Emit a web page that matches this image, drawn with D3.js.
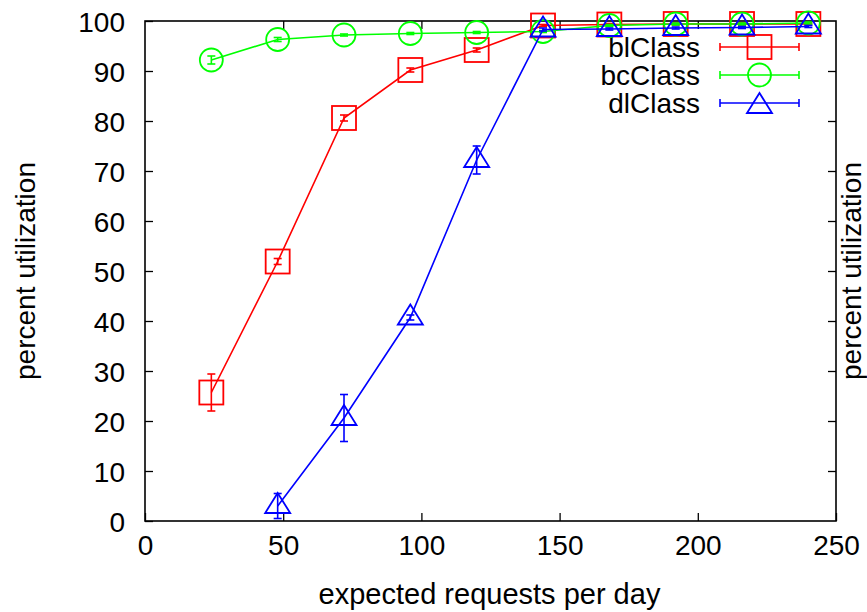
<!DOCTYPE html>
<html>
<head>
<meta charset="utf-8">
<script src="https://cdn.jsdelivr.net/npm/d3@7"></script>
<style>
  html, body { margin: 0; padding: 0; background: #fff; }
  svg text { font-family: "Liberation Sans", Arial, sans-serif; fill: #000; }
</style>
</head>
<body>
<svg id="chart" width="867" height="612"></svg>
<script>
// Request load levels (requests per day)
const requests = [24, 48, 72, 96, 120, 144, 168, 192, 216, 240];

// Mean utilization (%) and error half-widths per class
const blClass = [25.7, 51.9, 80.6, 90.2, 94.2, 99.1, 99.3, 99.4, 99.4, 99.4];
const blErr   = [3.7, 0.6, 0.6, 0.4, 0.4, 0.2, 0.2, 0.2, 0.2, 0.2];
const bcClass = [92.2, 96.3, 97.2, 97.5, 97.7, 97.9, 99.1, 99.4, 99.4, 99.6];
const bcErr   = [0.8, 0.4, 0.2, 0.2, 0.2, 0.2, 0.2, 0.2, 0.2, 0.2];
const dlClass = [null, 3.0, 20.6, 40.7, 72.2, 98.3, 98.4, 98.6, 98.7, 98.9];
const dlErr   = [null, 2.5, 4.7, 0.5, 2.8, 0.3, 0.2, 0.2, 0.2, 0.2];

const xTicks = [0, 50, 100, 150, 200, 250];
const yTicks = [0, 10, 20, 30, 40, 50, 60, 70, 80, 90, 100];

const seriesNames  = ["blClass", "bcClass", "dlClass"];
const seriesColors = ["#ff0000", "#00ff00", "#0000ff"];
const seriesShapes = ["square", "circle", "triangle"];

const series = [
  { name: seriesNames[0], color: seriesColors[0], shape: seriesShapes[0], values: blClass, errs: blErr },
  { name: seriesNames[1], color: seriesColors[1], shape: seriesShapes[1], values: bcClass, errs: bcErr },
  { name: seriesNames[2], color: seriesColors[2], shape: seriesShapes[2], values: dlClass, errs: dlErr }
];

const svg = d3.select("#chart");
const plotLeft = 145, plotTop = 21, plotRight = 836, plotBottom = 521;

const x = d3.scaleLinear().domain([0, 250]).range([plotLeft, plotRight]);
const y = d3.scaleLinear().domain([0, 100]).range([plotBottom, plotTop]);

const fontSize = 28;
const tickLen = 8;

// Axes: bottom/left with labels, top/right mirror ticks only
const axes = svg.append("g");
axes.append("g").attr("transform", `translate(0,${plotBottom})`)
  .call(d3.axisBottom(x).tickValues(xTicks).tickSize(-tickLen).tickPadding(14))
  .call(g => { g.select(".domain").remove(); g.selectAll("text").attr("font-size", fontSize).attr("dy", "0.71em").attr("font-family", "Liberation Sans, Arial"); });
axes.append("g").attr("transform", `translate(0,${plotTop})`)
  .call(d3.axisTop(x).tickValues(xTicks.slice(1, -1)).tickSize(-tickLen).tickFormat(""))
  .call(g => g.select(".domain").remove());
axes.append("g").attr("transform", `translate(${plotLeft},0)`)
  .call(d3.axisLeft(y).tickValues(yTicks).tickSize(-tickLen).tickPadding(20))
  .call(g => { g.select(".domain").remove(); g.selectAll("text").attr("font-size", fontSize).attr("dy", "0.36em").attr("font-family", "Liberation Sans, Arial"); });
axes.append("g").attr("transform", `translate(${plotRight},0)`)
  .call(d3.axisRight(y).tickValues(yTicks.slice(1, -1)).tickSize(-tickLen).tickFormat(""))
  .call(g => g.select(".domain").remove());
svg.selectAll(".tick line").attr("stroke", "#000").attr("stroke-width", 1.3);

svg.append("rect")
  .attr("x", plotLeft).attr("y", plotTop)
  .attr("width", plotRight - plotLeft).attr("height", plotBottom - plotTop)
  .attr("fill", "none").attr("stroke", "#000").attr("stroke-width", 1.6);

// Axis titles
svg.append("text")
  .attr("x", (plotLeft + plotRight) / 2 - 1).attr("y", 604)
  .attr("text-anchor", "middle").attr("font-size", 29)
  .text("expected requests per day");
svg.append("text")
  .attr("transform", `translate(35,${(plotTop + plotBottom) / 2}) rotate(-90)`)
  .attr("text-anchor", "middle").attr("font-size", fontSize)
  .text("percent utilization");
svg.append("text")
  .attr("transform", `translate(861,${(plotTop + plotBottom) / 2}) rotate(-90)`)
  .attr("text-anchor", "middle").attr("font-size", fontSize)
  .text("percent utilization");

// Marker drawing helper
function drawMarker(g, shape, cx, cy, color) {
  if (shape === "square") {
    g.append("rect").attr("x", cx - 12).attr("y", cy - 12)
      .attr("width", 24).attr("height", 24)
      .attr("fill", "none").attr("stroke", color).attr("stroke-width", 1.8);
  } else if (shape === "circle") {
    g.append("circle").attr("cx", cx).attr("cy", cy).attr("r", 11.5)
      .attr("fill", "none").attr("stroke", color).attr("stroke-width", 1.8);
  } else {
    g.append("path")
      .attr("d", `M${cx},${cy - 13} L${cx + 12.5},${cy + 7} L${cx - 12.5},${cy + 7} Z`)
      .attr("fill", "none").attr("stroke", color).attr("stroke-width", 1.8);
  }
}

const line = d3.line()
  .defined(d => d.v != null)
  .x(d => x(d.x)).y(d => y(d.v));

const legendTextX = 700, legendY0 = 47, legendStep = 28;
const capHalf = 4;

series.forEach((s, i) => {
  const g = svg.append("g");
  const pts = requests.map((r, j) => ({ x: r, v: s.values[j], e: s.errs[j] }))
    .filter(d => d.v != null);

  g.append("path").datum(pts)
    .attr("d", line).attr("fill", "none")
    .attr("stroke", s.color).attr("stroke-width", 1.6);

  pts.forEach(d => {
    const cx = x(d.x);
    const y1 = y(Math.max(0, d.v - d.e)), y2 = y(d.v + d.e);
    g.append("line").attr("x1", cx).attr("x2", cx).attr("y1", y1).attr("y2", y2)
      .attr("stroke", s.color).attr("stroke-width", 1.6);
    [y1, y2].forEach(yy => g.append("line")
      .attr("x1", cx - capHalf).attr("x2", cx + capHalf).attr("y1", yy).attr("y2", yy)
      .attr("stroke", s.color).attr("stroke-width", 1.6));
    drawMarker(g, s.shape, cx, y(d.v), s.color);
  });

  // Legend entry
  const ly = legendY0 + i * legendStep;
  g.append("text").attr("x", legendTextX).attr("y", ly).attr("dy", "0.36em")
    .attr("text-anchor", "end").attr("font-size", fontSize).text(s.name);
  g.append("line").attr("x1", 720).attr("x2", 799).attr("y1", ly).attr("y2", ly)
    .attr("stroke", s.color).attr("stroke-width", 1.6);
  [720, 799].forEach(xx => g.append("line")
    .attr("x1", xx).attr("x2", xx).attr("y1", ly - capHalf).attr("y2", ly + capHalf)
    .attr("stroke", s.color).attr("stroke-width", 1.6));
  drawMarker(g, s.shape, 759.5, ly + (s.shape === "triangle" ? 3 : 0), s.color);
});
</script>
</body>
</html>
